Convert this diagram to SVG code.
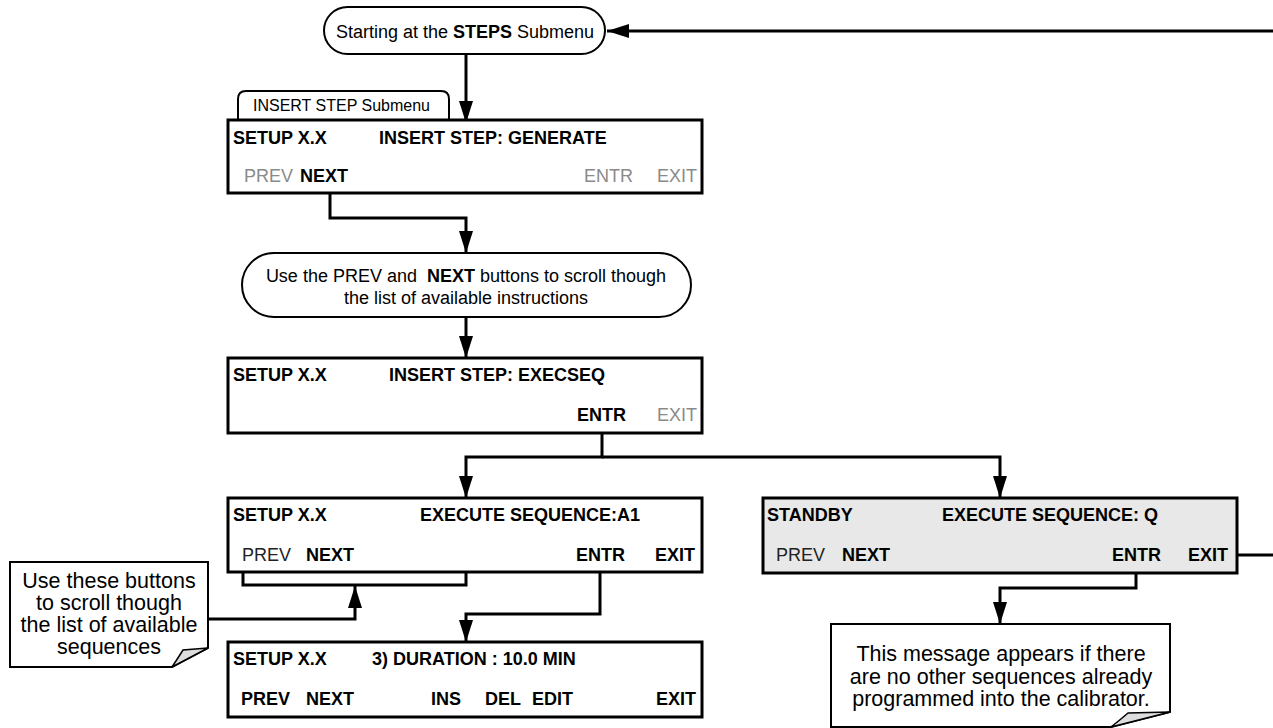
<svg xmlns="http://www.w3.org/2000/svg" width="1273" height="728" viewBox="0 0 1273 728">
<style>
text{font-family:"Liberation Sans",Arial,sans-serif;fill:#000}
.t{font-size:18px;font-weight:bold}
.g{font-size:18px;fill:#8a8a8a;font-weight:normal}
.r{font-size:18px;font-weight:normal;fill:#222}
.term{fill:#fff;stroke:#000;stroke-width:2}
.box{fill:#fff;stroke:#000;stroke-width:3}
.sb{fill:#e8e8e8;stroke:#000;stroke-width:3}
.note{fill:#fff;stroke:#000;stroke-width:2}
.fold{fill:#ddd;stroke:#000;stroke-width:1.5}
.n{font-size:21.5px;text-anchor:middle}
.c{fill:none;stroke:#000;stroke-width:3}
</style>
<defs>
<marker id="ah" markerUnits="userSpaceOnUse" markerWidth="22" markerHeight="14" refX="22" refY="7" orient="auto">
<path d="M0,0 L22,7 L0,14 z" fill="#000"/>
</marker>
</defs>
<g id="connectors">
<path class="c" d="M1232,555 H1290 V31 H607" marker-end="url(#ah)"/>
<path class="c" d="M466,54 V123" marker-end="url(#ah)"/>
<path class="c" d="M330,187 V218 H466 V253" marker-end="url(#ah)"/>
<path class="c" d="M466,317 V358" marker-end="url(#ah)"/>
<path class="c" d="M602,425 V457 H466 V498" marker-end="url(#ah)"/>
<path class="c" d="M602,457 H1000 V498" marker-end="url(#ah)"/>
<path class="c" d="M243,548 V585 H466 V551"/>
<path class="c" d="M208,619 H355 V586" marker-end="url(#ah)"/>
<path class="c" d="M600,563 V614 H466 V642" marker-end="url(#ah)"/>
<path class="c" d="M1136,565 V588 H1000 V624" marker-end="url(#ah)"/>
</g>
<g id="start">
<rect class="term" x="324" y="7" width="281" height="47" rx="23.5"/>
<text x="465" y="38" font-size="18" text-anchor="middle">Starting at the <tspan font-weight="bold">STEPS</tspan> Submenu</text>
</g>
<g id="tab">
<path class="term" d="M238,120 V99 Q238,91 246,91 H441 Q449,91 449,99 V120"/>
<text x="253" y="111" font-size="16">INSERT STEP Submenu</text>
</g>
<g id="box1">
<rect class="box" x="228" y="120" width="474" height="73"/>
<text class="t" x="233" y="144">SETUP X.X</text>
<text class="t" x="379" y="144">INSERT STEP: GENERATE</text>
<text class="g" x="244" y="182">PREV</text>
<text class="t" x="300" y="182">NEXT</text>
<text class="g" x="584" y="182">ENTR</text>
<text class="g" x="657" y="182">EXIT</text>
</g>
<g id="scroll-instr">
<rect class="term" x="242" y="253" width="449" height="64" rx="32"/>
<text x="466" y="282" font-size="18" text-anchor="middle" xml:space="preserve">Use the PREV and  <tspan font-weight="bold">NEXT</tspan> buttons to scroll though</text>
<text x="466" y="304" font-size="18" text-anchor="middle">the list of available instructions</text>
</g>
<g id="box2">
<rect class="box" x="228" y="358" width="474" height="75"/>
<text class="t" x="233" y="381">SETUP X.X</text>
<text class="t" x="389" y="381">INSERT STEP: EXECSEQ</text>
<text class="t" x="577" y="421">ENTR</text>
<text class="g" x="657" y="421">EXIT</text>
</g>
<g id="box3">
<rect class="box" x="228" y="498" width="474" height="74"/>
<text class="t" x="233" y="521">SETUP X.X</text>
<text class="t" x="420" y="521">EXECUTE SEQUENCE:A1</text>
<text class="r" x="242" y="561">PREV</text>
<text class="t" x="306" y="561">NEXT</text>
<text class="t" x="576" y="561">ENTR</text>
<text class="t" x="655" y="561">EXIT</text>
</g>
<g id="box4">
<rect class="box" x="228" y="642" width="474" height="75"/>
<text class="t" x="233" y="665">SETUP X.X</text>
<text class="t" x="372" y="665">3) DURATION : 10.0 MIN</text>
<text class="t" x="241" y="705">PREV</text>
<text class="t" x="306" y="705">NEXT</text>
<text class="t" x="431" y="705">INS</text>
<text class="t" x="485" y="705">DEL</text>
<text class="t" x="532" y="705">EDIT</text>
<text class="t" x="656" y="705">EXIT</text>
</g>
<g id="standby">
<rect class="sb" x="763" y="498" width="474" height="75"/>
<text class="t" x="767" y="521">STANDBY</text>
<text class="t" x="942" y="521">EXECUTE SEQUENCE: Q</text>
<text class="r" x="776" y="561">PREV</text>
<text class="t" x="842" y="561">NEXT</text>
<text class="t" x="1112" y="561">ENTR</text>
<text class="t" x="1188" y="561">EXIT</text>
</g>
<g id="note-scroll">
<path class="note" d="M10,562 H208 V648 L172,667 H10 Z"/>
<path class="fold" d="M208,648 L183,650 Q178,658 172,667 Z"/>
<text class="n" x="109" y="588">Use these buttons</text>
<text class="n" x="109" y="610">to scroll though</text>
<text class="n" x="109" y="632">the list of available</text>
<text class="n" x="109" y="654">sequences</text>
</g>
<g id="note-message">
<path class="note" d="M831,624 H1170 V712 L1111,727 H831 Z"/>
<path class="fold" d="M1170,712 L1128,713 Q1120,720 1111,727 Z"/>
<text class="n" x="1001" y="661">This message appears if there</text>
<text class="n" x="1001" y="684">are no other sequences already</text>
<text class="n" x="1001" y="706">programmed into the calibrator.</text>
</g>
</svg>
